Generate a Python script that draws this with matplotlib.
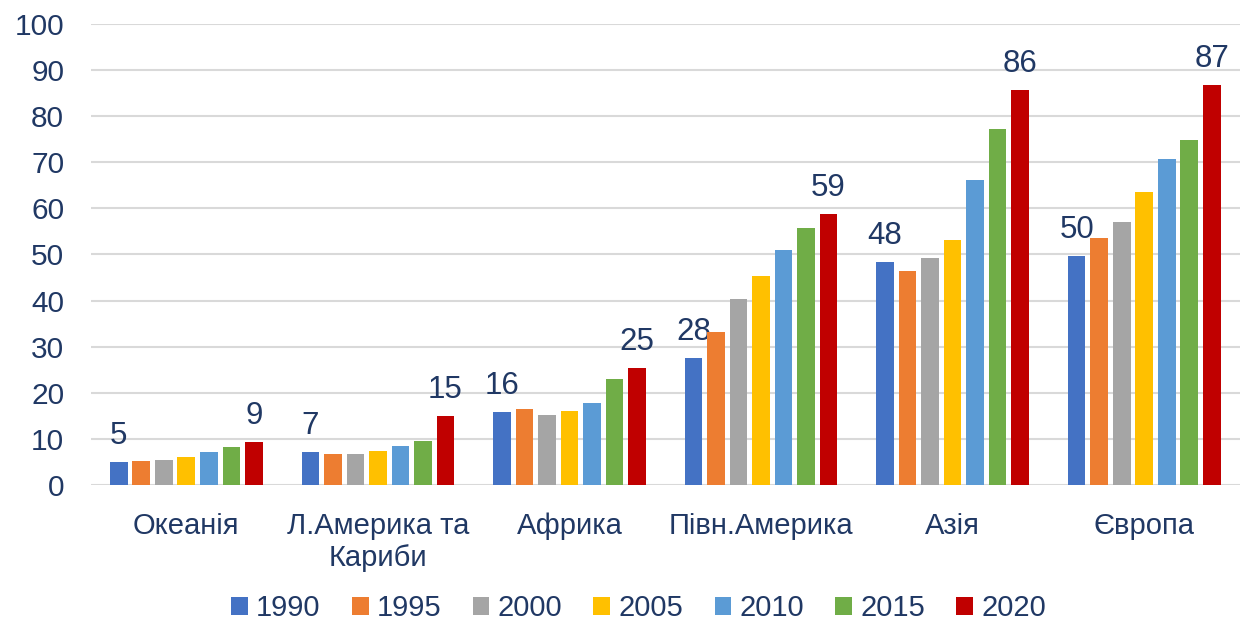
import numpy as np
import matplotlib.pyplot as plt

# Дані
regions = ["Океанія", "Л.Америка та\nКариби", "Африка", "Півн.Америка", "Азія", "Європа"]
years = ["1990", "1995", "2000", "2005", "2010", "2015", "2020"]

v1990 = [5.0, 7.2, 15.8, 27.6, 48.3, 49.6]
v1995 = [5.2, 6.8, 16.5, 33.3, 46.5, 53.5]
v2000 = [5.5, 6.7, 15.2, 40.4, 49.2, 57.0]
v2005 = [6.1, 7.3, 16.0, 45.4, 53.2, 63.6]
v2010 = [7.2, 8.4, 17.8, 51.0, 66.2, 70.6]
v2015 = [8.2, 9.5, 23.0, 55.7, 77.2, 74.8]
v2020 = [9.4, 15.0, 25.4, 58.7, 85.6, 86.7]

series = [v1990, v1995, v2000, v2005, v2010, v2015, v2020]
colors = ["#4472C4", "#ED7D31", "#A5A5A5", "#FFC000", "#5B9BD5", "#70AD47", "#C00000"]
text_color = "#203864"

plt.rcParams["font.family"] = ["Liberation Sans", "DejaVu Sans"]

fig = plt.figure(figsize=(12.4, 6.26), dpi=100)
ax = fig.add_axes([0.073, 0.225, 0.927, 0.737])

x = np.arange(len(regions))
pitch = 0.1175
width = 0.092

for i, (vals, col) in enumerate(zip(series, colors)):
    pos = x + (i - 3) * pitch
    bars = ax.bar(pos, vals, width, color=col, label=years[i], zorder=3)
    # підписи тільки для першого та останнього року
    if i == 0 or i == len(series) - 1:
        ax.bar_label(bars, fmt="%.0f", padding=8, fontsize=22.5, color=text_color)

ax.set_ylim(0, 100)
ax.set_xlim(-0.5, len(regions) - 0.5)
ax.set_yticks(np.arange(0, 101, 10))
ax.set_xticks(x)
ax.set_xticklabels(regions, fontsize=21, linespacing=1.2)
ax.tick_params(axis="both", length=0, labelcolor=text_color)
ax.tick_params(axis="y", labelsize=21.5, pad=19)
ax.tick_params(axis="x", pad=19)
ax.grid(axis="y", color="#D9D9D9", linewidth=1.5, zorder=0)
for s in ax.spines.values():
    s.set_visible(False)

handles, labels = ax.get_legend_handles_labels()
fig.legend(handles, labels, loc="center", bbox_to_anchor=(0.515, 0.028), ncol=7,
           frameon=False, fontsize=21, labelcolor=text_color, borderpad=0.1,
           handlelength=0.58, handleheight=0.58, handletextpad=0.28, columnspacing=1.07)

fig.savefig("out.png", dpi=100)
